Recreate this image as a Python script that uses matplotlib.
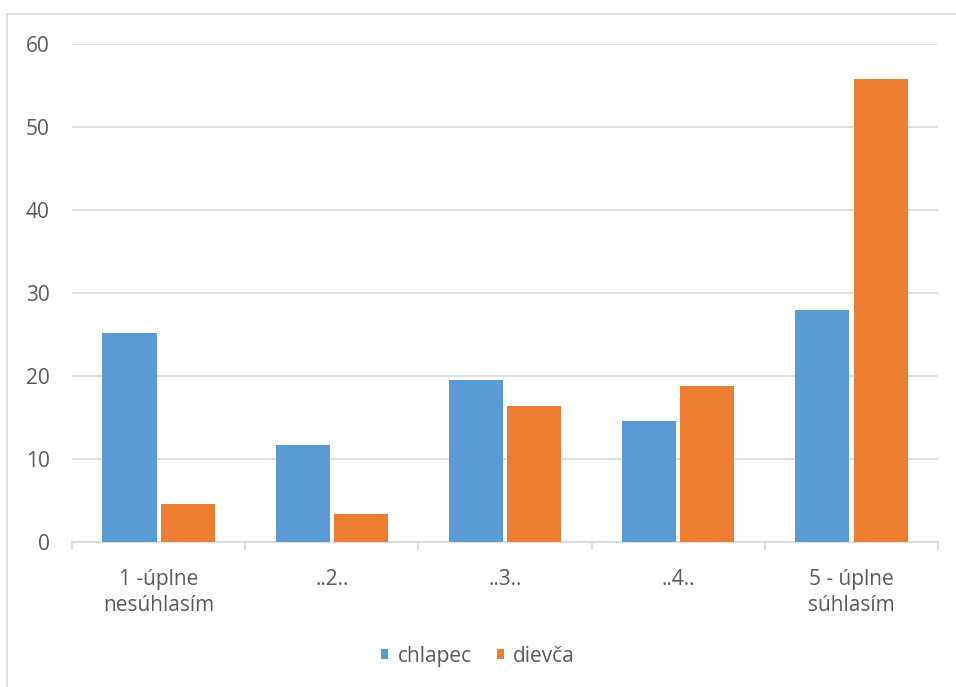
import numpy as np
import matplotlib.pyplot as plt
from matplotlib.lines import Line2D
from matplotlib.patches import Patch

# data
categories = ['1 -úplne\nnesúhlasím', '..2..', '..3..', '..4..', '5 - úplne\nsúhlasím']
chlapec = [25.1, 11.7, 19.5, 14.5, 27.9]
dievca = [4.5, 3.3, 16.4, 18.8, 55.7]
series_names = ['chlapec', 'dievča']
yticks = [0, 10, 20, 30, 40, 50, 60]

blue = '#5b9bd5'
orange = '#ed7d31'
grid_c = '#d9d9d9'
text_c = '#595959'

plt.rcParams['font.family'] = ['Open Sans', 'DejaVu Sans']

fig = plt.figure(figsize=(9.56, 6.87), dpi=100)
ax = fig.add_axes([0.0753, 0.2115, 0.9059, 0.7249])

x = np.arange(len(categories))
w = 0.312
off = 0.168
ax.bar(x - off, chlapec, w, color=blue, edgecolor='none', zorder=3)
ax.bar(x + off, dievca, w, color=orange, edgecolor='none', zorder=3)

ax.set_xlim(-0.5, len(categories) - 0.5)
ax.set_ylim(0, 60)
ax.set_yticks(yticks)
ax.set_yticklabels([str(t) for t in yticks])
ax.grid(axis='y', color=grid_c, linewidth=1.2, zorder=0)
ax.set_axisbelow(True)

for s in ['top', 'right', 'left']:
    ax.spines[s].set_visible(False)
ax.spines['bottom'].set_color(grid_c)
ax.spines['bottom'].set_linewidth(1.2)

fs = 15
ax.tick_params(axis='y', length=0, pad=16, labelsize=fs, labelcolor=text_c)
# category labels at centers, tick marks at boundaries
ax.set_xticks(x)
ax.set_xticklabels(categories, fontsize=fs, color=text_c, linespacing=1.3)
ax.tick_params(axis='x', which='major', length=0, pad=20)
ax.set_xticks(np.arange(-0.5, len(categories)), minor=True)
ax.tick_params(axis='x', which='minor', length=6, width=1.2, color=grid_c)

handles = [Patch(facecolor=blue, edgecolor='none'), Patch(facecolor=orange, edgecolor='none')]
leg = fig.legend(handles, series_names, loc='center', bbox_to_anchor=(0.5, 0.045),
                 ncol=2, frameon=False, fontsize=fs, handlelength=0.34, handleheight=0.34,
                 handletextpad=0.45, columnspacing=1.2)
for t in leg.get_texts():
    t.set_color(text_c)

# outer chart frame (top and left edges visible)
fig.add_artist(Line2D([7 / 956, 1], [1 - 14 / 687, 1 - 14 / 687], color=grid_c, linewidth=1.2,
                      transform=fig.transFigure))
fig.add_artist(Line2D([7 / 956, 7 / 956], [0, 1 - 14 / 687], color=grid_c, linewidth=1.2,
                      transform=fig.transFigure))

fig.savefig('out.png', dpi=100)
